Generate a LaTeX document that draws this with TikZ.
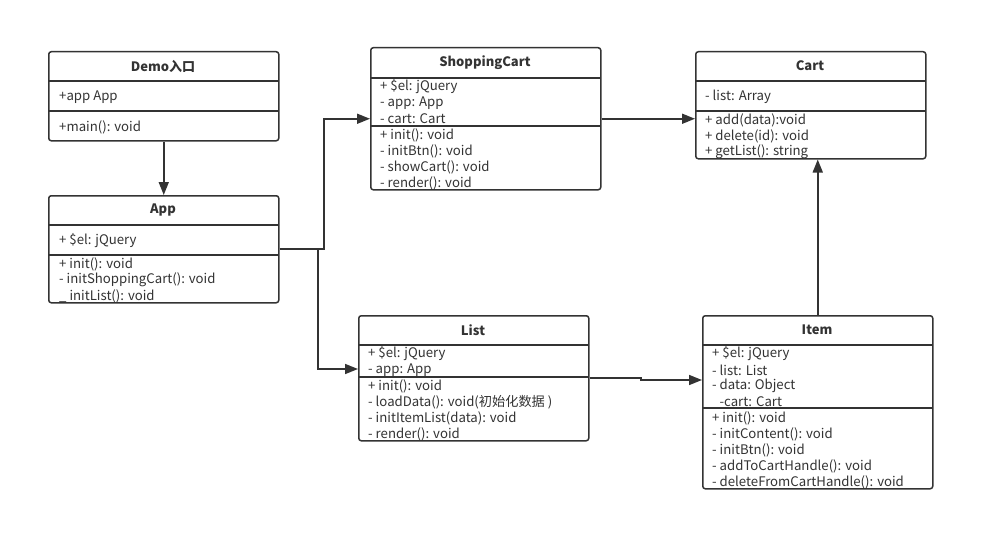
\documentclass[tikz,border=0pt]{standalone}
\usepackage{fontspec}
\setmainfont{Noto Sans CJK SC}
\usetikzlibrary{arrows.meta}
\definecolor{ink}{HTML}{333333}
\begin{document}
\begin{tikzpicture}[x=1pt,y=-1pt,
  box/.style={draw=ink,line width=1.5pt,rounded corners=2.5pt,inner sep=0pt,anchor=north west},
  sepline/.style={draw=ink,line width=1.5pt},
  ttl/.style={font=\fontsize{13}{15}\selectfont\bfseries,text=ink,inner sep=0pt},
  txt/.style={font=\fontsize{13.2}{15}\selectfont,text=ink,anchor=west,inner sep=0pt,yshift=-1pt},
  arr/.style={draw=ink,line width=1.6pt,-{Triangle[length=13pt,width=10pt]}},
  link/.style={draw=ink,line width=1.6pt}]
\useasboundingbox[fill=white] (0,0) rectangle (994,551);
% Demo
\node[box,minimum width=230pt,minimum height=89pt] (demo) at (48,51) {};
\draw[sepline] (48,81) -- (278,81) (48,111) -- (278,111);
\node[ttl] (demoT) at (163,66) {Demo入口};
\node[txt] (demo1) at (59,96) {+app App};
\node[txt] (demo2) at (59,126) {+main(): void};
% App
\node[box,minimum width=230pt,minimum height=107pt] (app) at (48,195) {};
\draw[sepline] (48,225) -- (278,225) (48,255) -- (278,255);
\node[ttl] (appT) at (163,210) {App};
\node[txt] (app1) at (59,240) {+ \$el: jQuery};
\node[txt] (app2) at (59,263) {+ init(): void};
\node[txt] (app3) at (59,279) {- initShoppingCart(): void};
\node[txt] (app4) at (59,295) {\_ initList(): void};
% ShoppingCart
\node[box,minimum width=230pt,minimum height=142pt] (sc) at (370,47) {};
\draw[sepline] (370,78) -- (600,78) (370,126) -- (600,126);
\node[ttl] (scT) at (485,63) {ShoppingCart};
\node[txt] (sc1) at (380,86) {+ \$el: jQuery};
\node[txt] (sc2) at (380,102) {- app: App};
\node[txt] (sc3) at (380,118) {- cart: Cart};
\node[txt] (sc4) at (380,134) {+ init(): void};
\node[txt] (sc5) at (380,150) {- initBtn(): void};
\node[txt] (sc6) at (380,166) {- showCart(): void};
\node[txt] (sc7) at (380,182) {- render(): void};
% Cart
\node[box,minimum width=230pt,minimum height=107pt] (cart) at (695,51) {};
\draw[sepline] (695,81) -- (925,81) (695,111) -- (925,111);
\node[ttl] (cartT) at (810,66) {Cart};
\node[txt] (cart1) at (705,96) {- list: Array};
\node[txt] (cart2) at (705,119) {+ add(data):void};
\node[txt] (cart3) at (705,135) {+ delete(id): void};
\node[txt] (cart4) at (705,151) {+ getList(): string};
% List
\node[box,minimum width=230pt,minimum height=125pt] (list) at (358,315) {};
\draw[sepline] (358,345) -- (588,345) (358,377) -- (588,377);
\node[ttl] (listT) at (473,330) {List};
\node[txt] (list1) at (368,353) {+ \$el: jQuery};
\node[txt] (list2) at (368,369) {- app: App};
\node[txt] (list3) at (368,385) {+ init(): void};
\node[txt] (list4) at (368,401) {- loadData(): void(初始化数据 )};
\node[txt] (list5) at (368,417) {- initItemList(data): void};
\node[txt] (list6) at (368,433) {- render(): void};
% Item
\node[box,minimum width=230pt,minimum height=173pt] (item) at (702,315) {};
\draw[sepline] (702,345) -- (932,345) (702,408) -- (932,408);
\node[ttl] (itemT) at (817,330) {Item};
\node[txt] (item1) at (712,353) {+ \$el: jQuery};
\node[txt] (item2) at (712,369) {- list: List};
\node[txt] (item3) at (712,385) {- data: Object};
\node[txt] (item4) at (712,401) {\_-cart: Cart};
\node[txt] (item5) at (712,417) {+ init(): void};
\node[txt] (item6) at (712,433) {- initContent(): void};
\node[txt] (item7) at (712,449) {- initBtn(): void};
\node[txt] (item8) at (712,465) {- addToCartHandle(): void};
\node[txt] (item9) at (712,481) {- deleteFromCartHandle(): void};
% connectors
\coordinate (bendA) at (324,0);
\coordinate (bendB) at (318,0);
\coordinate (listin) at (358,369);
\coordinate (bendC) at (641,380);
\coordinate (itemin) at (702,380);
\draw[arr] (demo.south) -- (app.north);
\draw[arr] (app.east) -- (app.east -| bendA) |- (sc.west);
\draw[arr] (app.east) -- (app.east -| bendB) |- (listin);
\draw[arr] (sc.east) -- (cart.west |- sc.east);
\draw[arr] (list.east) -- (list.east -| bendC) -- (bendC) -- (itemin);
\draw[arr] (item.north) -- (cart.south -| item.north);
\end{tikzpicture}
\end{document}
